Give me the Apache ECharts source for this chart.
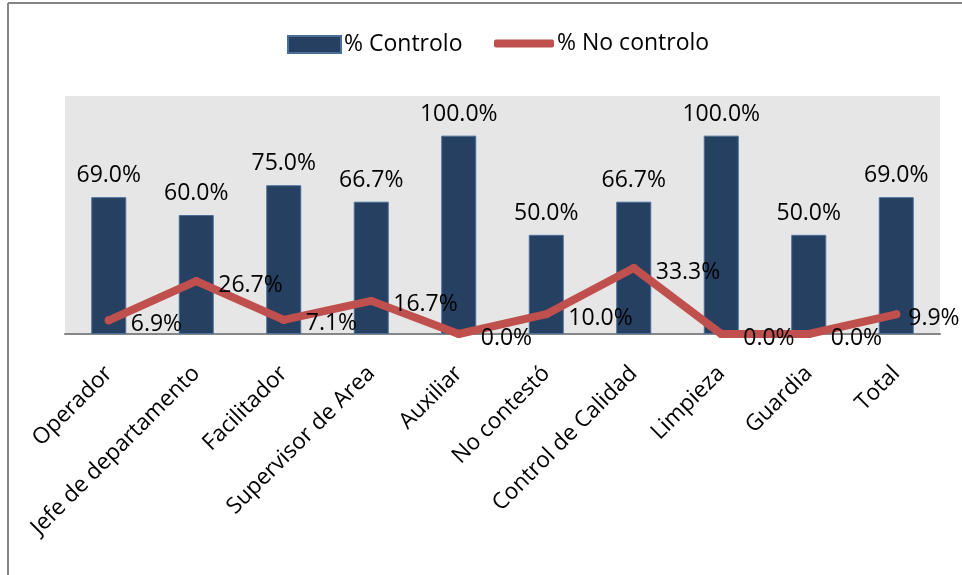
<!DOCTYPE html>
<html>
<head>
<meta charset="utf-8">
<script src="https://cdn.jsdelivr.net/npm/echarts@6/dist/echarts.min.js"></script>
<style>html,body{margin:0;padding:0;background:#fff}#c{width:962px;height:575px}</style>
</head>
<body>
<div id="c"></div>
<script>
const categories = ["Operador","Jefe de departamento","Facilitador","Supervisor de Area","Auxiliar","No contestó","Control de Calidad","Limpieza","Guardia","Total"];
const controlo = [69.0, 60.0, 75.0, 66.7, 100.0, 50.0, 66.7, 100.0, 50.0, 69.0];
const noControlo = [6.9, 26.7, 7.1, 16.7, 0.0, 10.0, 33.3, 0.0, 0.0, 9.9];
const seriesNames = ["% Controlo", "% No controlo"];

const FONT = "Open Sans";
const lineData = noControlo.map((v, i) => i === noControlo.length - 1
  ? {value: v, label: {distance: 8}}
  : v);
const chart = echarts.init(document.getElementById('c'), null, {renderer:'canvas'});
chart.setOption({
  animation: false,
  textStyle: {fontFamily: FONT},
  graphic: [
    {type:'line', shape:{x1:8,y1:3,x2:962,y2:3}, style:{stroke:'#868686', lineWidth:2}},
    {type:'line', shape:{x1:8,y1:3,x2:8,y2:575}, style:{stroke:'#868686', lineWidth:2}}
  ],
  legend: [
    {data:[{name:seriesNames[0], icon:'rect'}], left:282, top:28, itemWidth:53, itemHeight:17, itemGap:0,
     textStyle:{fontFamily:FONT, fontSize:23, color:'#000', padding:[0,0,0,-2]}},
    {data:[{name:seriesNames[1], icon:'roundRect'}], left:489, top:27, itemWidth:60, itemHeight:8, itemGap:0,
     textStyle:{fontFamily:FONT, fontSize:23, color:'#000', padding:[0,0,0,-2]}}
  ],
  grid: {left:65, right:22, top:96, bottom:241, show:true, backgroundColor:'#e6e6e6', borderWidth:0},
  xAxis: {
    type:'category', data:categories,
    axisLine:{show:true, lineStyle:{color:'#868686', width:2}},
    axisTick:{show:false},
    axisLabel:{rotate:45, fontSize:22.5, color:'#000', fontFamily:FONT, margin:36, interval:0}
  },
  yAxis: {type:'value', min:0, max:120, show:false, splitLine:{show:false}},
  series: [
    {name:seriesNames[0], type:'bar', data:controlo, barWidth:'40%',
     itemStyle:{color:'#254061', borderColor:'#4a6e9b', borderWidth:1},
     label:{show:true, position:'top', distance:10, fontSize:23, color:'#000', fontFamily:FONT,
       formatter:p=>p.value.toFixed(1)+'%'}},
    {name:seriesNames[1], type:'line', data:lineData, symbol:'circle', symbolSize:8,
     itemStyle:{color:'#c0504d'},
     lineStyle:{color:'#c0504d', width:8, cap:'round', join:'round'},
     label:{show:true, position:'right', distance:18, offset:[0,4], fontSize:23, color:'#000', fontFamily:FONT,
       formatter:p=>p.value.toFixed(1)+'%'}}
  ]
});
</script>
</body>
</html>
